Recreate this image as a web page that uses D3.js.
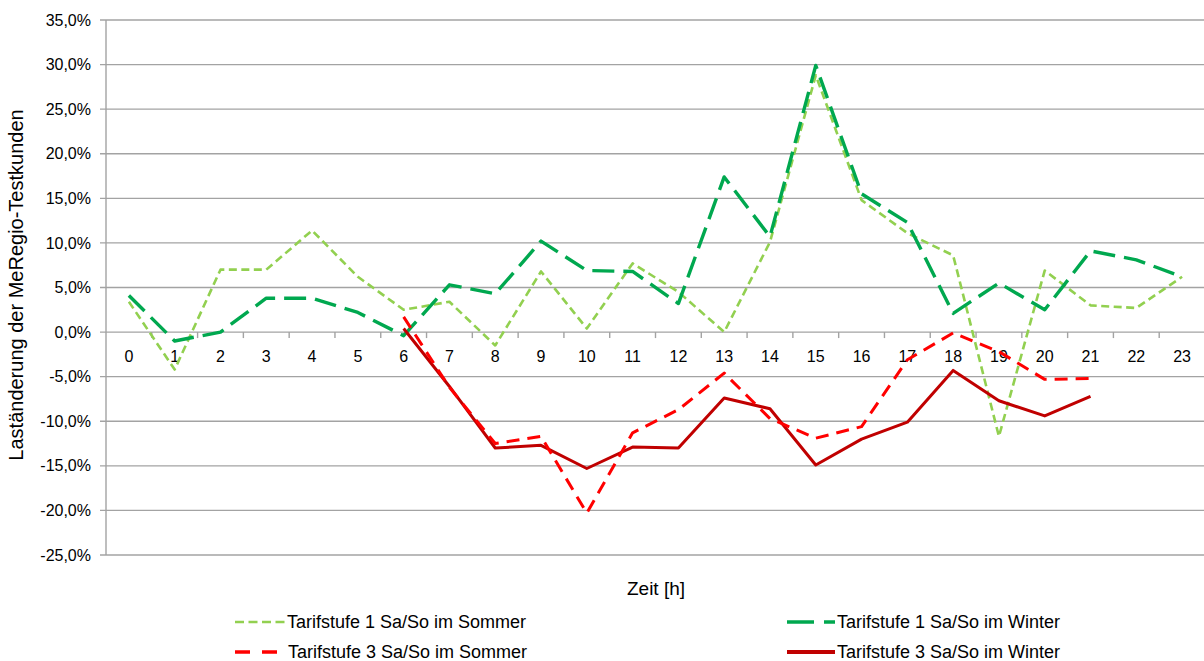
<!DOCTYPE html>
<html>
<head>
<meta charset="utf-8">
<script src="https://cdn.jsdelivr.net/npm/d3@7"></script>
<style>
  body { margin: 0; background: #fff; }
  text { font-family: "Liberation Sans", Arial, sans-serif; fill: #000; }
</style>
</head>
<body>
<div id="chart"></div>
<script>
//Data;
const hours = [0,1,2,3,4,5,6,7,8,9,10,11,12,13,14,15,16,17,18,19,20,21,22,23];
const yTicks = [-25,-20,-15,-10,-5,0,5,10,15,20,25,30,35];
const t1Sommer = [3.4,-4.2,7.0,7.0,11.4,6.2,2.5,3.4,-1.5,6.8,0.4,7.7,4.5,0.0,10.1,28.8,14.8,11.1,8.6,-11.7,6.9,3.0,2.7,6.2];
const t1Winter = [4.1,-1.0,0.0,3.8,3.8,2.2,-0.4,5.3,4.3,10.2,6.9,6.8,3.2,17.4,10.7,29.9,15.5,12.3,2.1,5.5,2.5,9.1,8.1,6.2];
const t3Sommer = [null,null,null,null,null,null,1.7,-6.2,-12.5,-11.7,-20.3,-11.3,-8.7,-4.6,-9.7,-11.9,-10.6,-3.1,-0.1,-2.2,-5.3,-5.2,null,null];
const t3Winter = [null,null,null,null,null,null,0.4,-6.1,-13.0,-12.7,-15.3,-12.9,-13.0,-7.4,-8.6,-14.9,-12.0,-10.1,-4.3,-7.7,-9.4,-7.2,null,null];
const seriesNames = ["Tarifstufe 1 Sa/So im Sommer","Tarifstufe 1 Sa/So im Winter","Tarifstufe 3 Sa/So im Sommer","Tarifstufe 3 Sa/So im Winter"];

//Size;
const w = 1204;
const h = 661;
const plotL = 106, plotR = 1205, plotT = 20, plotB = 555;

const svg = d3.select("#chart")
			  .append("svg")
				.attr("width", w)
				.attr("height", h);

//Scales;
const x = d3.scaleBand()
			.domain(hours)
			.range([plotL, plotR]);
const y = d3.scaleLinear()
			.domain([-25, 35])
			.range([plotB, plotT]);

const cx = function(d){ return x(d) + x.bandwidth()/2; };

//Gridlines;
svg.append("g")
   .selectAll("line")
   .data(yTicks)
   .enter()
   .append("line")
	 .attr("x1", plotL - 6)
	 .attr("x2", plotR)
	 .attr("y1", function(d){ return y(d); })
	 .attr("y2", function(d){ return y(d); })
	 .attr("stroke", "#a3a3a3")
	 .attr("stroke-width", 1.4);

//Y axis line;
svg.append("line")
   .attr("x1", plotL).attr("x2", plotL)
   .attr("y1", plotT).attr("y2", plotB)
   .attr("stroke", "#a3a3a3")
   .attr("stroke-width", 1.4);

//Y labels (hyphen minus, comma decimal);
const fmt = d3.format(".1f");
svg.append("g")
   .selectAll("text")
   .data(yTicks)
   .enter()
   .append("text")
	 .attr("x", 91)
	 .attr("y", function(d){ return y(d); })
	 .attr("dy", "0.35em")
	 .attr("text-anchor", "end")
	 .style("font-size", "16px")
	 .text(function(d){ return fmt(d).replace("\u2212", "-").replace(".", ",") + "%"; });

//X ticks on 0 line;
svg.append("g")
   .selectAll("line")
   .data(hours.slice(1))
   .enter()
   .append("line")
	 .attr("x1", function(d){ return x(d); })
	 .attr("x2", function(d){ return x(d); })
	 .attr("y1", y(0))
	 .attr("y2", y(0) + 6)
	 .attr("stroke", "#a3a3a3")
	 .attr("stroke-width", 1.4);

//X labels;
svg.append("g")
   .selectAll("text")
   .data(hours)
   .enter()
   .append("text")
	 .attr("x", cx)
	 .attr("y", 356)
	 .attr("dy", "0.35em")
	 .attr("text-anchor", "middle")
	 .style("font-size", "16px")
	 .text(function(d){ return d; });

//Lines;
const styles = [
	{data: t1Sommer, color: "#92d050", width: 2.6, dash: "8,4.5"},
	{data: t1Winter, color: "#00a84f", width: 3.4, dash: "22,9"},
	{data: t3Winter, color: "#c00000", width: 3, dash: null},
	{data: t3Sommer, color: "#ff0000", width: 3, dash: "13,8"}
];

const line = d3.line()
			   .defined(function(d){ return d.v !== null; })
			   .x(function(d){ return cx(d.h); })
			   .y(function(d){ return y(d.v); });

styles.forEach(function(s){
	svg.append("path")
	   .datum(hours.map(function(hh, i){ return {h: hh, v: s.data[i]}; }))
	   .attr("d", line)
	   .attr("fill", "none")
	   .attr("stroke", s.color)
	   .attr("stroke-width", s.width)
	   .attr("stroke-dasharray", s.dash)
	   .attr("stroke-linejoin", "round");
});

//Axis titles;
svg.append("text")
   .attr("transform", "translate(23," + 285 + ") rotate(-90)")
   .attr("text-anchor", "middle")
   .style("font-size", "20px")
   .text("Laständerung der MeRegio-Testkunden");

svg.append("text")
   .attr("x", 656)
   .attr("y", 588)
   .attr("dy", "0.35em")
   .attr("text-anchor", "middle")
   .style("font-size", "19px")
   .text("Zeit [h]");

//Legend;
const legend = [
	{name: seriesNames[0], color: "#92d050", width: 2.6, dash: "9,4.5", x1: 235, x2: 285, tx: 287, ty: 622},
	{name: seriesNames[1], color: "#00a84f", width: 3.4, dash: "27,10", x1: 787, x2: 835, tx: 837, ty: 622},
	{name: seriesNames[2], color: "#ff0000", width: 3.4, dash: "15,12", x1: 235, x2: 277, tx: 288, ty: 652},
	{name: seriesNames[3], color: "#c00000", width: 4, dash: null, x1: 787, x2: 835, tx: 837, ty: 652}
];

legend.forEach(function(l){
	svg.append("line")
	   .attr("x1", l.x1).attr("x2", l.x2)
	   .attr("y1", l.ty).attr("y2", l.ty)
	   .attr("stroke", l.color)
	   .attr("stroke-width", l.width)
	   .attr("stroke-dasharray", l.dash);
	svg.append("text")
	   .attr("x", l.tx)
	   .attr("y", l.ty)
	   .attr("dy", "0.35em")
	   .style("font-size", "18px")
	   .text(l.name);
});
</script>
</body>
</html>
